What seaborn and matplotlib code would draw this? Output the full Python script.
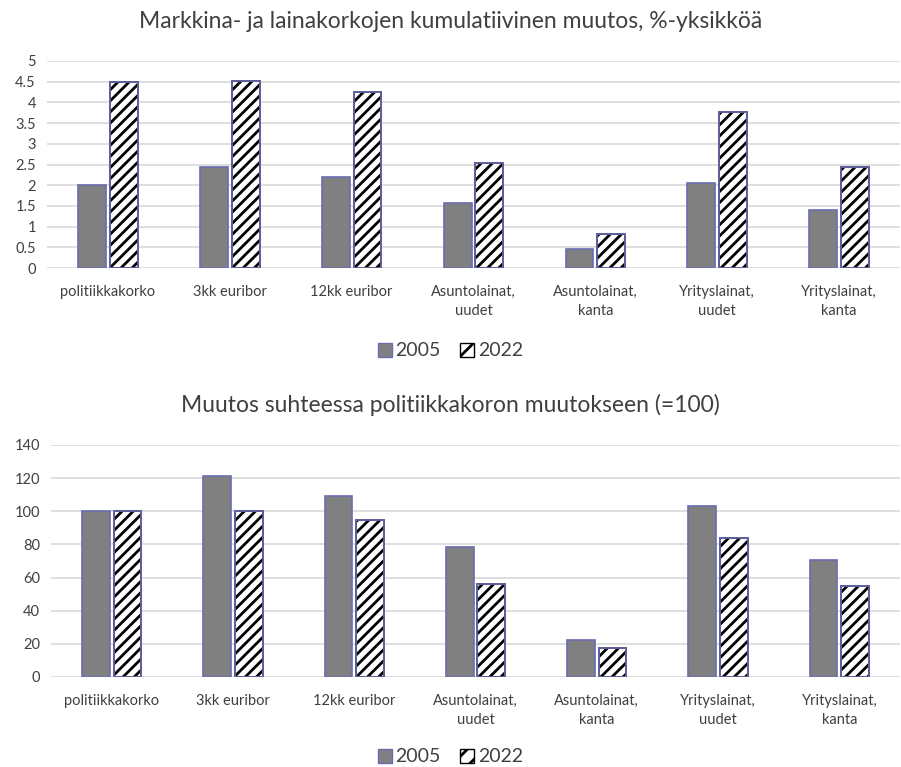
import matplotlib
matplotlib.use("Agg")
import matplotlib.pyplot as plt
import seaborn as sns
import pandas as pd
from matplotlib.patches import Patch, Rectangle

categories = ["politiikkakorko", "3kk euribor", "12kk euribor", "Asuntolainat,\nuudet",
              "Asuntolainat,\nkanta", "Yrityslainat,\nuudet", "Yrityslainat,\nkanta"]
years = ["2005", "2022"]
top_2005 = [2.0, 2.43, 2.2, 1.58, 0.45, 2.05, 1.4]
top_2022 = [4.5, 4.52, 4.24, 2.53, 0.83, 3.77, 2.43]
bot_2005 = [100, 121, 109, 78.3, 22.1, 103, 70.8]
bot_2022 = [100, 100, 94.6, 56.1, 17.7, 83.7, 54.7]
top_title = "Markkina- ja lainakorkojen kumulatiivinen muutos, %-yksikköä"
bot_title = "Muutos suhteessa politiikkakoron muutokseen (=100)"
top_ticks = [0, 0.5, 1, 1.5, 2, 2.5, 3, 3.5, 4, 4.5, 5]
top_ticklabels = ["0", "0.5", "1", "1.5", "2", "2.5", "3", "3.5", "4", "4.5", "5"]
bot_ticks = [0, 20, 40, 60, 80, 100, 120, 140]

sns.set_theme(style="white")
plt.rcParams["font.family"] = ["Lato", "DejaVu Sans"]
plt.rcParams["hatch.linewidth"] = 2.0
plt.rcParams["hatch.color"] = "black"

EDGE = "#6a6cb0"
GRAY = "#808080"
GRID = "#d9d9d9"
TXT = "#404040"


def make_df(a, b):
    return pd.DataFrame({
        "cat": categories * 2,
        "val": list(a) + list(b),
        "year": [years[0]] * len(categories) + [years[1]] * len(categories),
    })


fig = plt.figure(figsize=(9.01, 7.67), dpi=100)
ax1 = fig.add_axes([47 / 901, 1 - 268 / 767, (900 - 47) / 901, (268 - 61) / 767])
ax2 = fig.add_axes([51 / 901, 1 - 677 / 767, (900 - 51) / 901, (677 - 445) / 767])


def hatch_black(p):
    if hasattr(p, "set_hatchcolor"):
        p.set_hatchcolor("black")
        return True
    return False


def draw(ax, df, ticks, ticklabels, title, title_y, legend_y):
    sns.barplot(data=df, x="cat", y="val", hue="year", ax=ax,
                palette=[GRAY, "white"], width=0.52, gap=0.12,
                edgecolor=EDGE, linewidth=1.2, legend=False, saturation=1)
    for p in ax.containers[1]:
        p.set_hatch("///")
        if hatch_black(p):
            p.set_edgecolor(EDGE)
        else:
            p.set_edgecolor("black")
            ax.add_patch(Rectangle(p.get_xy(), p.get_width(), p.get_height(),
                                   fill=False, edgecolor=EDGE, linewidth=1.2, zorder=p.get_zorder() + 0.1))
    ax.set_ylim(ticks[0], ticks[-1])
    ax.set_yticks(ticks)
    ax.set_yticklabels(ticklabels, fontsize=10.5, color=TXT)
    ax.set_xlim(-0.5, len(categories) - 0.5)
    ax.set_xlabel("")
    ax.set_ylabel("")
    ax.tick_params(axis="x", labelsize=10.5, colors=TXT, length=0, pad=12)
    ax.tick_params(axis="y", length=0, pad=8)
    for lbl in ax.get_xticklabels():
        lbl.set_linespacing(1.5)
    ax.yaxis.grid(True, color=GRID, linewidth=1.2)
    ax.set_axisbelow(True)
    for s in ax.spines.values():
        s.set_visible(False)
    fig.text(0.5, title_y, title, ha="center", va="center", fontsize=16.5, color=TXT)
    h2 = Patch(facecolor="white", edgecolor=EDGE, hatch="//", label=years[1])
    if not hatch_black(h2):
        h2 = Patch(facecolor="white", edgecolor="black", hatch="//", label=years[1])
    handles = [Patch(facecolor=GRAY, edgecolor=EDGE, label=years[0]), h2]
    fig.legend(handles=handles, loc="center", bbox_to_anchor=(0.5, legend_y), ncol=2,
               frameon=False, fontsize=14, handlelength=0.7, handleheight=0.7,
               handletextpad=0.2, columnspacing=1.0, labelcolor=TXT)


draw(ax1, make_df(top_2005, top_2022), top_ticks, top_ticklabels, top_title,
     1 - 22 / 767, 1 - 351 / 767)
draw(ax2, make_df(bot_2005, bot_2022), bot_ticks, [str(t) for t in bot_ticks], bot_title,
     1 - 405 / 767, 1 - 757 / 767)

fig.savefig("out.png", dpi=100, facecolor="white")
